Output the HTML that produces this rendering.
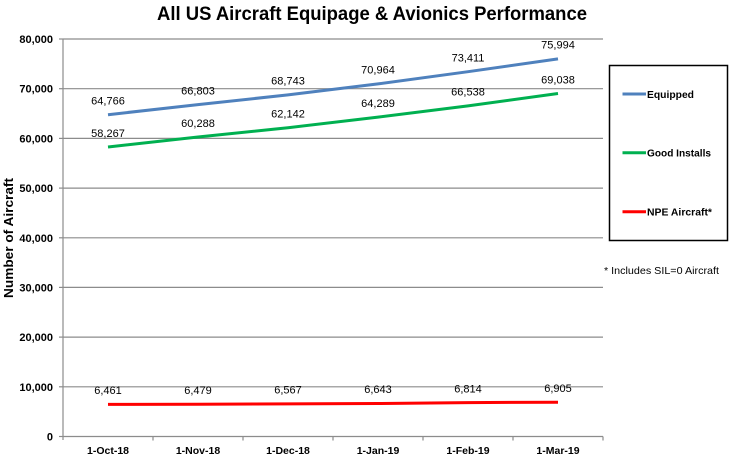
<!DOCTYPE html>
<html><head><meta charset="utf-8"><style>
html,body{margin:0;padding:0;background:#fff;}
svg{display:block;}
text{font-family:"Liberation Sans",sans-serif;fill:#000;}
</style></head><body>
<svg width="729" height="456" viewBox="0 0 729 456" xmlns="http://www.w3.org/2000/svg">
<rect width="729" height="456" fill="#fff"/>
<text x="372" y="20" font-size="19" font-weight="bold" text-anchor="middle" textLength="430" lengthAdjust="spacingAndGlyphs">All US Aircraft Equipage &amp; Avionics Performance</text>
<g stroke="#8c8c8c" stroke-width="1.2">
<line x1="63" y1="39" x2="603" y2="39"/>
<line x1="63" y1="88.7" x2="603" y2="88.7"/>
<line x1="63" y1="138.4" x2="603" y2="138.4"/>
<line x1="63" y1="188.1" x2="603" y2="188.1"/>
<line x1="63" y1="237.8" x2="603" y2="237.8"/>
<line x1="63" y1="287.4" x2="603" y2="287.4"/>
<line x1="63" y1="337.1" x2="603" y2="337.1"/>
<line x1="63" y1="386.8" x2="603" y2="386.8"/>
<line x1="63" y1="436.5" x2="603" y2="436.5"/>
<line x1="63" y1="39" x2="63" y2="440"/>
<line x1="59" y1="39" x2="63" y2="39"/>
<line x1="59" y1="88.7" x2="63" y2="88.7"/>
<line x1="59" y1="138.4" x2="63" y2="138.4"/>
<line x1="59" y1="188.1" x2="63" y2="188.1"/>
<line x1="59" y1="237.8" x2="63" y2="237.8"/>
<line x1="59" y1="287.4" x2="63" y2="287.4"/>
<line x1="59" y1="337.1" x2="63" y2="337.1"/>
<line x1="59" y1="386.8" x2="63" y2="386.8"/>
<line x1="59" y1="436.5" x2="63" y2="436.5"/>
<line x1="153" y1="436.5" x2="153" y2="440.5"/>
<line x1="243" y1="436.5" x2="243" y2="440.5"/>
<line x1="333" y1="436.5" x2="333" y2="440.5"/>
<line x1="423" y1="436.5" x2="423" y2="440.5"/>
<line x1="513" y1="436.5" x2="513" y2="440.5"/>
<line x1="603" y1="436.5" x2="603" y2="440.5"/>
</g>
<g font-size="11" font-weight="bold" text-anchor="end">
<text x="53" y="43">80,000</text>
<text x="53" y="92.7">70,000</text>
<text x="53" y="142.4">60,000</text>
<text x="53" y="192.1">50,000</text>
<text x="53" y="241.8">40,000</text>
<text x="53" y="291.4">30,000</text>
<text x="53" y="341.1">20,000</text>
<text x="53" y="390.8">10,000</text>
<text x="53" y="440.5">0</text>
</g>
<text transform="translate(13,238) rotate(-90)" font-size="13" font-weight="bold" text-anchor="middle" textLength="120" lengthAdjust="spacingAndGlyphs">Number of Aircraft</text>
<g font-size="10.5" font-weight="bold" text-anchor="middle">
<text x="108" y="454">1-Oct-18</text>
<text x="198" y="454">1-Nov-18</text>
<text x="288" y="454">1-Dec-18</text>
<text x="378" y="454">1-Jan-19</text>
<text x="468" y="454">1-Feb-19</text>
<text x="558" y="454">1-Mar-19</text>
</g>
<g fill="none" stroke-width="3" stroke-linejoin="round" stroke-linecap="butt">
<polyline stroke="#4F81BD" points="108,114.7 198,104.6 288,94.9 378,83.9 468,71.7 558,58.9"/>
<polyline stroke="#00B050" points="108,147 198,137 288,127.7 378,117.1 468,105.9 558,93.5"/>
<polyline stroke="#FF0000" points="108,404.4 198,404.3 288,403.9 378,403.5 468,402.6 558,402.2"/>
</g>
<g font-size="11" text-anchor="middle">
<text x="108" y="104.5">64,766</text>
<text x="198" y="94.4">66,803</text>
<text x="288" y="84.7">68,743</text>
<text x="378" y="73.7">70,964</text>
<text x="468" y="61.5">73,411</text>
<text x="558" y="48.7">75,994</text>
<text x="108" y="136.8">58,267</text>
<text x="198" y="126.8">60,288</text>
<text x="288" y="117.5">62,142</text>
<text x="378" y="106.9">64,289</text>
<text x="468" y="95.7">66,538</text>
<text x="558" y="83.3">69,038</text>
<text x="108" y="394">6,461</text>
<text x="198" y="394">6,479</text>
<text x="288" y="393.5">6,567</text>
<text x="378" y="393">6,643</text>
<text x="468" y="392.3">6,814</text>
<text x="558" y="391.8">6,905</text>
</g>
<rect x="609.5" y="65.5" width="118" height="175" fill="#fff" stroke="#000" stroke-width="1.5"/>
<g stroke-width="3">
<line x1="622.5" y1="94" x2="646" y2="94" stroke="#4F81BD"/>
<line x1="622.5" y1="152.7" x2="646" y2="152.7" stroke="#00B050"/>
<line x1="622.5" y1="211.7" x2="646" y2="211.7" stroke="#FF0000"/>
</g>
<g font-size="10.5" font-weight="bold">
<text x="647" y="98" textLength="47" lengthAdjust="spacingAndGlyphs">Equipped</text>
<text x="647" y="156.7" textLength="64" lengthAdjust="spacingAndGlyphs">Good Installs</text>
<text x="647" y="215.7" textLength="65" lengthAdjust="spacingAndGlyphs">NPE Aircraft*</text>
</g>
<text x="604" y="274" font-size="10.5" textLength="115" lengthAdjust="spacingAndGlyphs">* Includes SIL=0 Aircraft</text>
</svg>
</body></html>
